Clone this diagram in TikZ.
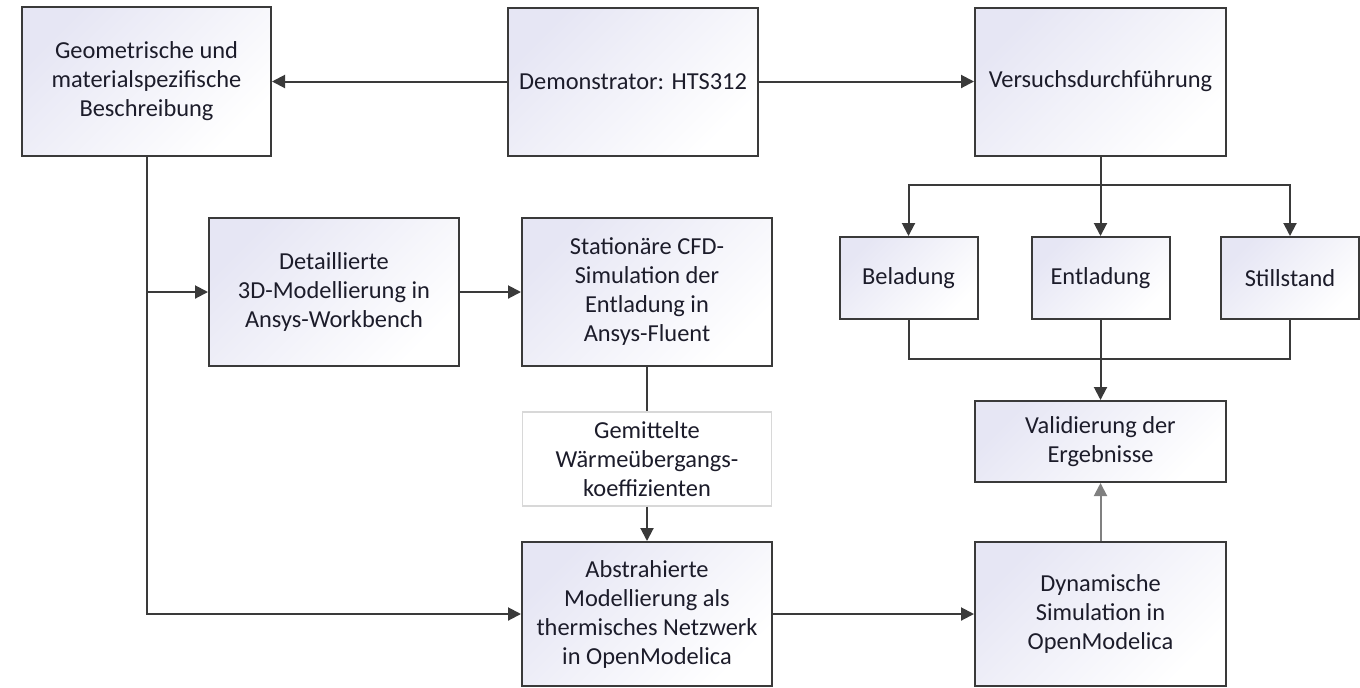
\documentclass[tikz,border=0pt]{standalone}
\usepackage{fontspec}
\setmainfont{Carlito}
\usetikzlibrary{arrows.meta,positioning}
\definecolor{boxtint}{HTML}{E6E6F4}
\definecolor{boxline}{HTML}{3A3A3A}
\definecolor{paleline}{HTML}{D8D8D8}
\definecolor{txtdark}{HTML}{1C1C2A}
\tikzset{
  procbox/.style={draw=boxline, line width=1pt, top color=boxtint, bottom color=white,
                  shading angle=45, inner sep=2pt, align=center, text=txtdark,
                  font=\fontsize{12.2}{14.5}\selectfont},
  databox/.style={draw=paleline, line width=0.6pt, fill=white, inner sep=2pt,
                  align=center, text=txtdark, font=\fontsize{12.2}{14.5}\selectfont},
  arr/.style={-{Triangle[length=6.5pt,width=6.5pt]}, line width=1pt, color=boxline},
  plain/.style={line width=1pt, color=boxline},
  garr/.style={arr, color=gray}}

\begin{document}
\begin{tikzpicture}[x=0.5pt, y=-0.5pt]
    \useasboundingbox (0,0) rectangle (1360,687);
    % top row
    \node[procbox, minimum width=124.5pt, minimum height=74.5pt] (geo) at (146.5,81.5)
      {Geometrische und\\ materialspezifische\\ Beschreibung};
    \node[procbox, minimum width=125pt, minimum height=74pt] (demo) at (633,81.5)
      {Demonstrator: HTS312};
    \node[procbox, minimum width=125.5pt, minimum height=74pt] (vers) at (1100.5,81.5)
      {Versuchsdurchführung};
    % modelling chain
    \node[procbox, minimum width=125pt, minimum height=74pt] (detail) at (334,292)
      {Detaillierte\\ 3D-Modellierung in\\ Ansys-Workbench};
    \node[procbox, minimum width=125pt, minimum height=74pt] (cfd) at (647,292)
      {Stationäre CFD-\\ Simulation der\\ Entladung in\\ Ansys-Fluent};
    \node[databox, minimum width=124.5pt, minimum height=47pt] (koeff) at (647,459)
      {Gemittelte\\ Wärmeübergangs-\\ koeffizienten};
    \node[procbox, minimum width=125pt, minimum height=72pt] (abstr) at (647,614)
      {Abstrahierte\\ Modellierung als\\ thermisches Netzwerk\\ in OpenModelica};
    \node[procbox, minimum width=125.5pt, minimum height=72pt] (dyn) at (1100.5,614)
      {Dynamische\\ Simulation in\\ OpenModelica};
    % test cases
    \node[procbox, minimum width=69pt, minimum height=41pt] (bel) at (908.5,278) {Beladung};
    \node[procbox, minimum width=69pt, minimum height=41pt] (ent) at (1100.5,278) {Entladung};
    \node[procbox, minimum width=69pt, minimum height=41pt] (still) at (1290,278) {Stillstand};
    \node[procbox, minimum width=125.5pt, minimum height=40.5pt] (val) at (1100.5,441.5)
      {Validierung der\\ Ergebnisse};
    \coordinate (split) at (1100.5,185);
    \coordinate (merge) at (1100.5,359);
    % connectors
    \draw[arr] (demo) -- (geo);
    \draw[arr] (demo) -- (vers);
    \draw[arr] (geo.south) |- (abstr.west);
    \draw[arr] (geo.south |- detail.west) -- (detail.west);
    \draw[arr] (detail) -- (cfd);
    \draw[plain] (cfd) -- (koeff);
    \draw[arr] (koeff) -- (abstr);
    \draw[arr] (abstr) -- (dyn);
    \draw[garr] (dyn) -- (val);
    \draw[plain] (vers.south) -- (split);
    \draw[arr] (split) -| (bel.north);
    \draw[arr] (split) -- (ent.north);
    \draw[arr] (split) -| (still.north);
    \draw[plain] (bel.south) |- (merge);
    \draw[plain] (still.south) |- (merge);
    \draw[arr] (ent.south) -- (val.north);
\end{tikzpicture}
\end{document}
